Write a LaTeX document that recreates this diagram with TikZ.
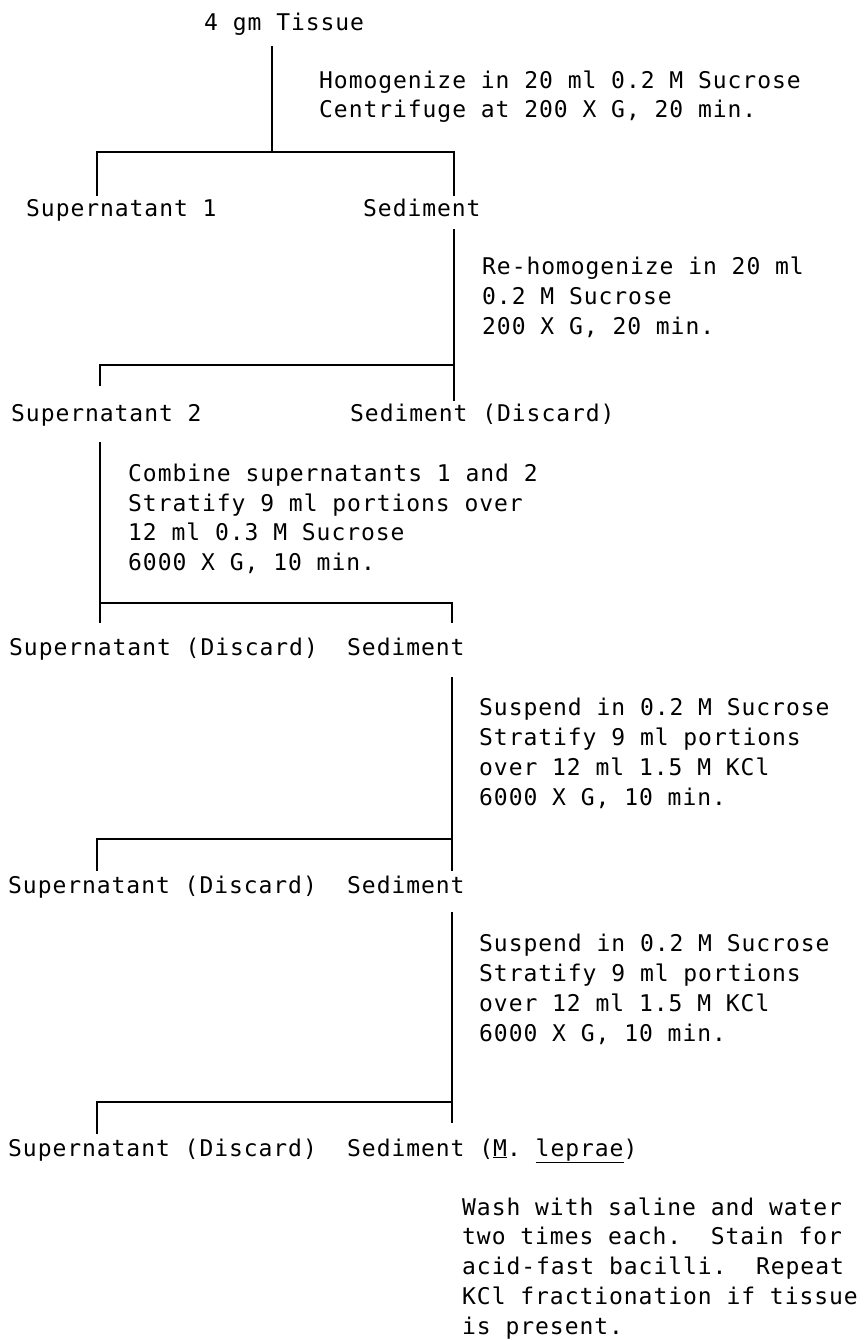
\documentclass[tikz,border=0pt]{standalone}
\usepackage{fontspec}
\newfontfamily\twfam[LetterSpace=4.1]{DejaVu Sans Mono}
\newcommand\twfont{\twfam\fontsize{23}{29.7}\selectfont\spaceskip=14.8pt\relax\xspaceskip=14.8pt\relax}
\begin{document}
\begin{tikzpicture}[x=1pt,y=-1pt,
  lbl/.style={anchor=base west, inner sep=0pt, align=left, font=\twfont},
  conn/.style={line width=1.9pt, line cap=rect, line join=miter}]
\fill[white] (0,0) rectangle (864,1340);
\useasboundingbox (0,0) rectangle (864,1340);

% texts (multi-line nodes are anchored at the baseline of their last line)
\node[lbl] (tissue) at (204,31) {4 gm Tissue};
\node[lbl] (hom) at (319,118) {Homogenize in 20 ml 0.2 M Sucrose\\Centrifuge at 200 X G, 20 min.};
\node[lbl] (sup1) at (26,216.5) {Supernatant 1};
\node[lbl] (sed1) at (363,216.5) {Sediment};
\node[lbl] (rehom) at (482,334) {Re-homogenize in 20 ml\\0.2 M Sucrose\\200 X G, 20 min.};
\node[lbl] (sup2) at (11,421) {Supernatant 2};
\node[lbl] (sed2) at (350,421) {Sediment (Discard)};
\node[lbl] (comb) at (128,570.5) {Combine supernatants 1 and 2\\Stratify 9 ml portions over\\12 ml 0.3 M Sucrose\\6000 X G, 10 min.};
\node[lbl] (sup3) at (9,655) {Supernatant (Discard)};
\node[lbl] (sed3) at (347,655) {Sediment};
\node[lbl] (susp1) at (479,805) {Suspend in 0.2 M Sucrose\\Stratify 9 ml portions\\over 12 ml 1.5 M KCl\\6000 X G, 10 min.};
\node[lbl] (sup4) at (8,893) {Supernatant (Discard)};
\node[lbl] (sed4) at (347,893) {Sediment};
\node[lbl] (susp2) at (479,1041) {Suspend in 0.2 M Sucrose\\Stratify 9 ml portions\\over 12 ml 1.5 M KCl\\6000 X G, 10 min.};
\node[lbl] (sup5) at (8,1156) {Supernatant (Discard)};
\node[lbl] (sed5) at (347,1156) {Sediment (\underline{M}. \underline{leprae})};
\node[lbl] (wash) at (462,1334) {Wash with saline and water\\two times each.\ \ Stain for\\acid-fast bacilli.\ \ Repeat\\KCl fractionation if tissue\\is present.};

% junction coordinates
\coordinate (a0) at (272,47);
\coordinate (a1) at (272,152);
\coordinate (a2) at (97,195);
\coordinate (a3) at (454,195);
\coordinate (b0) at (454,230);
\coordinate (b1) at (454,400);
\coordinate (b2) at (100,385);
\coordinate (bh) at (0,365);
\coordinate (c0) at (100,443);
\coordinate (c1) at (100,622);
\coordinate (c2) at (452,622);
\coordinate (ch) at (0,603);
\coordinate (d0) at (452,678);
\coordinate (d1) at (452,870);
\coordinate (d2) at (97,870);
\coordinate (dh) at (0,839);
\coordinate (e0) at (452,913);
\coordinate (e1) at (452,1122);
\coordinate (e2) at (97,1133);
\coordinate (eh) at (0,1102);

% connectors
\draw[conn] (a0) -- (a1);
\draw[conn] (a2) |- (a1) -| (a3);
\draw[conn] (b0) -- (b1);
\draw[conn] (b2) |- (b0 |- bh);
\draw[conn] (c0) -- (c1);
\draw[conn] (c0 |- ch) -| (c2);
\draw[conn] (d0) -- (d1);
\draw[conn] (d2) |- (d0 |- dh);
\draw[conn] (e0) -- (e1);
\draw[conn] (e2) |- (e0 |- eh);
\end{tikzpicture}
\end{document}
